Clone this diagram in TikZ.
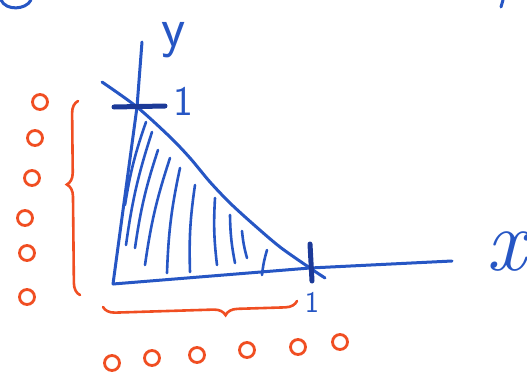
\documentclass[tikz,border=0pt]{standalone}
\usepackage{fontspec}
\usepackage{tikz}
\usetikzlibrary{decorations.pathreplacing}
\definecolor{blueink}{RGB}{38,86,196}
\definecolor{darkink}{RGB}{28,58,152}
\definecolor{redink}{RGB}{240,78,34}

\begin{document}
\begin{tikzpicture}[x=1pt, y=-1pt, pen/.style={draw=blueink, line width=3pt, line cap=round, line join=round}, thick pen/.style={draw=darkink, line width=5pt, line cap=round}, hatch/.style={draw=blueink, line width=2.6pt, line cap=round}, ring/.style={circle, draw=redink, line width=2.8pt, minimum size=15pt, inner sep=0pt}, curly/.style={draw=redink, line width=2.6pt, line cap=round, decorate}, label/.style={text=blueink, inner sep=0pt}]
\useasboundingbox (0,0) rectangle (527,375);
% axes and the curve
\coordinate (O) at (113,284);
\coordinate (ytop) at (142,42);
\coordinate (xend) at (452,261);
\coordinate (yone) at (137,107);
\coordinate (xone) at (310,268);
\draw[pen] (ytop) -- (yone) -- (O);
\draw[pen] (O) -- (xone) -- (xend);
\draw[pen] plot[smooth, tension=0.5] coordinates {(102,82) (yone) (170,137) (190,158) (210,182) (230,203) (253,224) (280,247) (xone) (325,278)};
% hatching
\foreach \xa/\ya/\xb/\yb in {125/205/146/122, 126/245/152/132, 135/248/158/150, 145/265/170/158, 167/273/180/168, 190/272/195/185, 217/265/215/198, 235/263/230/215, 247/258/242/231, 262/275/267/250}
  \draw[hatch] (\xa,\ya) to[bend left=5] (\xb,\yb);
% ticks and labels
\draw[thick pen] (114,107) -- (165,106);
\draw[thick pen] (310,244) -- (312,281);
\node[label, font=\sffamily\fontsize{42}{42}\selectfont] (ylab1) at (183,101) {1};
\node[label, font=\sffamily\fontsize{30}{30}\selectfont] (xlab1) at (312,302) {1};
\node[label, font=\sffamily\fontsize{56}{56}\selectfont] (ylab) at (174,40) {y};
\node[label, font=\itshape\fontsize{88}{88}\selectfont] (xlab) at (506,252) {x};
% leftover strokes at the top edge
\draw[pen] (1,0) .. controls (6,11) and (26,10) .. (31,0);
\draw[pen] (503,0) -- (501,7);
% red braces
\draw[curly, decoration={brace, amplitude=12pt, aspect=0.57}] (80,295) -- (78,101);
\draw[curly, decoration={brace, amplitude=12pt, aspect=0.37}] (297,301) -- (103,307);
% red rings
\foreach \x/\y [count=\i] in {40/102, 35/138, 32/178, 25/218, 27/253, 27/297}
  \node[ring] (left\i) at (\x,\y) {};
\foreach \x/\y [count=\i] in {112/363, 152/358, 197/355, 247/350, 298/347, 340/342}
  \node[ring] (low\i) at (\x,\y) {};
\end{tikzpicture}
\end{document}
